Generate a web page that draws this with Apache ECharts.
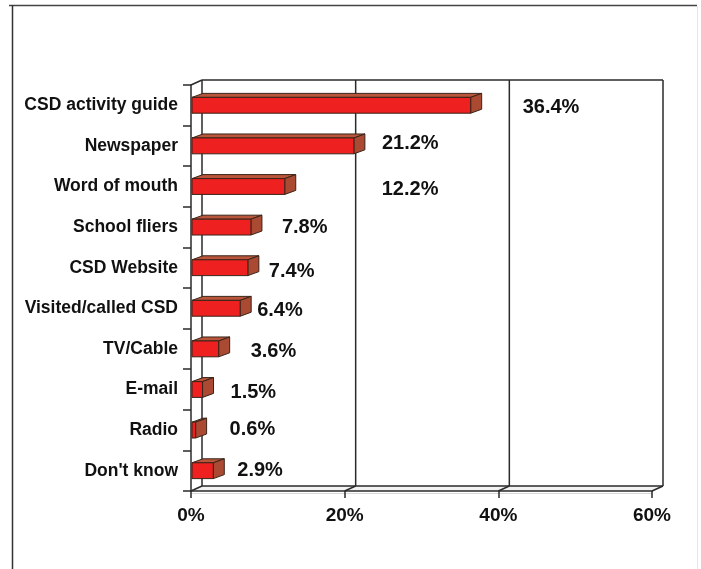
<!DOCTYPE html>
<html>
<head>
<meta charset="utf-8">
<script src="https://cdn.jsdelivr.net/npm/echarts@6/dist/echarts.min.js"></script>
<style>
  html, body { margin: 0; padding: 0; background: #fff; }
  #chart { width: 701px; height: 569px; }
</style>
</head>
<body>
<div id="chart"></div>
<script>
// How people heard about the CSD programs (share of respondents)
const categories = ['CSD activity guide', 'Newspaper', 'Word of mouth', 'School fliers', 'CSD Website',
                    'Visited/called CSD', 'TV/Cable', 'E-mail', 'Radio', "Don't know"];
const shares = [36.4, 21.2, 12.2, 7.8, 7.4, 6.4, 3.6, 1.5, 0.6, 2.9];
const axisTicks = [0, 20, 40, 60];

// Value labels are placed by hand: gap after the bar's side face and a small vertical nudge (px)
const labelGap = [41, 17, 86, 20, 10, 6, 21, 17, 23, 13];
const labelNudge = [2, -2, 3, 0, 4, 2, 3, 3, -1, 0];

const WALL_DX = 11, WALL_DY = -5;  // depth of the back wall / floor
const BAR_DX = 11, BAR_DY = -4;    // depth of each bar
const INK = '#2a2a2a';
const FONT = '"Liberation Sans", Arial, Helvetica, sans-serif';

const chart = echarts.init(document.getElementById('chart'), null, { renderer: 'canvas' });

function renderWall(params, api) {
  const cs = params.coordSys;
  const top = cs.y, bottom = cs.y + cs.height;
  const x = api.coord([api.value(0), 0])[0];
  const xStart = api.coord([axisTicks[0], 0])[0];
  const xEnd = api.coord([axisTicks[axisTicks.length - 1], 0])[0];
  const line = { stroke: INK, lineWidth: 1.5 };
  const children = [];
  if (params.dataIndex === 0) {
    // floor strip
    children.push({
      type: 'polygon',
      shape: { points: [[xStart, bottom], [xStart + WALL_DX, bottom + WALL_DY],
                        [xEnd + WALL_DX, bottom + WALL_DY], [xEnd, bottom]] },
      style: { fill: '#f2f2f2', stroke: null }
    });
    // light shadow under the floor's front edge
    children.push({ type: 'line', shape: { x1: xStart, y1: bottom + 2.5, x2: xEnd, y2: bottom + 2.5 }, style: { stroke: '#d8d8d8', lineWidth: 1 } });
    // back wall top edge, floor back edge, left wall top edge
    children.push({ type: 'line', shape: { x1: xStart + WALL_DX, y1: top + WALL_DY, x2: xEnd + WALL_DX, y2: top + WALL_DY }, style: line });
    children.push({ type: 'line', shape: { x1: xStart + WALL_DX, y1: bottom + WALL_DY, x2: xEnd + WALL_DX, y2: bottom + WALL_DY }, style: line });
    children.push({ type: 'line', shape: { x1: xStart, y1: top, x2: xStart + WALL_DX, y2: top + WALL_DY }, style: line });
  }
  // gridline on the back wall and its diagonal across the floor
  children.push({ type: 'line', shape: { x1: x + WALL_DX, y1: top + WALL_DY, x2: x + WALL_DX, y2: bottom + WALL_DY }, style: line });
  children.push({ type: 'line', shape: { x1: x, y1: bottom, x2: x + WALL_DX, y2: bottom + WALL_DY }, style: line });
  return { type: 'group', children };
}

function renderBar(params, api) {
  const i = params.dataIndex;
  const v = api.value(0);
  const cat = api.value(1);
  const base = api.coord([0, cat]);
  const tip = api.coord([v, cat]);
  const band = api.size([0, 1])[1];
  const h = band * 0.39;
  const x0 = base[0] + 1, x1 = tip[0];
  const y0 = tip[1] - h / 2, y1 = tip[1] + h / 2;
  const stroke = '#3a2418';
  return {
    type: 'group',
    children: [
      { type: 'polygon',
        shape: { points: [[x0, y0], [x0 + BAR_DX, y0 + BAR_DY], [x1 + BAR_DX, y0 + BAR_DY], [x1, y0]] },
        style: { fill: '#b9553b', stroke, lineWidth: 1 } },
      { type: 'polygon',
        shape: { points: [[x1, y0], [x1 + BAR_DX, y0 + BAR_DY], [x1 + BAR_DX, y1 + BAR_DY], [x1, y1]] },
        style: { fill: '#aa4a33', stroke, lineWidth: 1 } },
      { type: 'rect',
        shape: { x: x0, y: y0, width: Math.max(x1 - x0, 0.5), height: h },
        style: { fill: '#ee2020', stroke, lineWidth: 1 } },
      { type: 'text',
        style: { text: v.toFixed(1) + '%', x: x1 + BAR_DX + labelGap[i], y: tip[1] + labelNudge[i],
                 align: 'left', verticalAlign: 'middle', font: 'bold 20px ' + FONT, fill: '#111' } }
    ]
  };
}

chart.setOption({
  backgroundColor: '#fff',
  animation: false,
  grid: { left: 191, right: 49, top: 85, bottom: 78, containLabel: false, outerBoundsMode: 'none' },
  xAxis: {
    type: 'value', min: 0, max: 60, interval: 20, z: 10,
    splitLine: { show: false },
    axisLine: { show: true, lineStyle: { color: INK, width: 1.5 } },
    axisTick: { show: true, length: 7, lineStyle: { color: INK, width: 1.5 } },
    axisLabel: { formatter: '{value}%', margin: 15, color: '#111', fontSize: 19, fontWeight: 'bold', fontFamily: FONT }
  },
  yAxis: {
    type: 'category', data: categories, inverse: true, z: 10,
    axisLine: { show: true, lineStyle: { color: INK, width: 1.5 } },
    axisTick: { show: true, length: 8, alignWithLabel: false, lineStyle: { color: INK, width: 1.5 } },
    axisLabel: { margin: 13, color: '#111', fontSize: 17.5, fontWeight: 'bold', fontFamily: FONT },
    splitLine: { show: false }
  },
  series: [
    {
      type: 'custom', name: 'wall', z: 1, silent: true, clip: false,
      renderItem: renderWall,
      encode: { x: 0, y: 1 },
      data: axisTicks.map(t => [t, 0])
    },
    {
      type: 'custom', name: 'share', z: 3, silent: true, clip: false,
      renderItem: renderBar,
      encode: { x: 0, y: 1 },
      data: shares.map((s, i) => [s, i])
    }
  ],
  graphic: [
    { type: 'line', shape: { x1: 9, y1: 5.5, x2: 697, y2: 5.5 }, style: { stroke: '#444', lineWidth: 1.5 }, z: 100 },
    { type: 'line', shape: { x1: 12.5, y1: 5, x2: 12.5, y2: 569 }, style: { stroke: '#333', lineWidth: 1.5 }, z: 100 },
    { type: 'line', shape: { x1: 697.5, y1: 6, x2: 697.5, y2: 569 }, style: { stroke: '#e6e6e6', lineWidth: 1 }, z: 100 }
  ]
});
</script>
</body>
</html>
